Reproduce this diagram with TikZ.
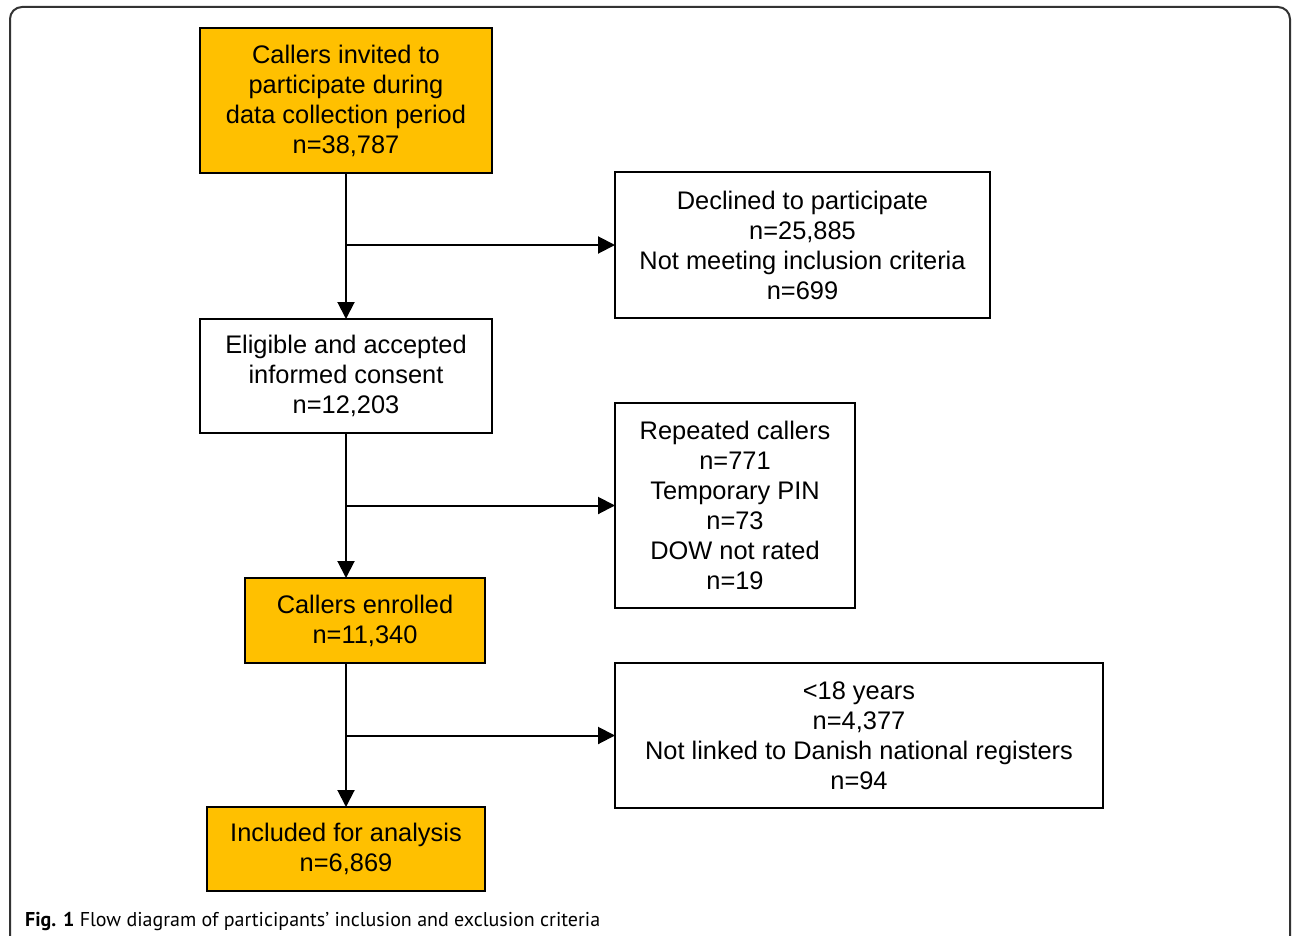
\documentclass[tikz,border=0pt]{standalone}
\usepackage{fontspec}
\setmainfont{Liberation Sans}
\newfontfamily\capfont{PT Sans}
\usetikzlibrary{arrows.meta}
\definecolor{boxyellow}{HTML}{FFC000}
\definecolor{framegray}{HTML}{333333}
\tikzset{
  box/.style={draw=black, line width=2.4pt, align=center, inner sep=0pt, outer sep=0pt,
    font=\fontsize{25.4}{30}\selectfont},
  ybox/.style={box, fill=boxyellow},
  wbox/.style={box, fill=white},
  arr/.style={line width=2pt, -{Triangle[length=17pt,width=17pt]}},
}
\begin{document}
\begin{tikzpicture}[x=1pt,y=-1pt]
\useasboundingbox (0,0) rectangle (1292,936);
\draw[framegray, line width=2pt, rounded corners=12pt] (10,940) -- (10,7) -- (1290,7) -- (1290,940);
\node[ybox, minimum width=292, minimum height=145] (b1) at (346,100.5) {Callers invited to\\participate during\\data collection period\\n=38,787};
\node[wbox, minimum width=375, minimum height=146] (b2) at (802.5,245) {Declined to participate\\n=25,885\\Not meeting inclusion criteria\\n=699};
\node[wbox, minimum width=292, minimum height=114] (b3) at (346,376) {Eligible and accepted\\informed consent\\n=12,203};
\node[wbox, minimum width=240, minimum height=205] (b4) at (735,505.5) {Repeated callers\\n=771\\Temporary PIN\\n=73\\DOW not rated\\n=19};
\node[ybox, minimum width=240, minimum height=85] (b5) at (365,620.5) {Callers enrolled\\n=11,340};
\node[wbox, minimum width=488, minimum height=145] (b6) at (859,735.5) {<18 years\\n=4,377\\Not linked to Danish national registers\\n=94};
\node[ybox, minimum width=278, minimum height=84] (b7) at (346,849) {Included for analysis\\n=6,869};
\draw[arr] (b1.south) -- (b3.north);
\draw[arr] (b2.west -| b1.south) -- (b2.west);
\draw[arr] (b3.south) -- (b3.south |- b5.north);
\draw[arr] (b4.west -| b3.south) -- (b4.west);
\draw[arr] (b7.north |- b5.south) -- (b7.north);
\draw[arr] (b6.west -| b7.north) -- (b6.west);
\node[anchor=base west, inner sep=0pt, font=\capfont\fontsize{20}{24}\selectfont] (cap) at (25,926) {\textbf{Fig. 1} Flow diagram of participants’ inclusion and exclusion criteria};
\end{tikzpicture}
\end{document}
